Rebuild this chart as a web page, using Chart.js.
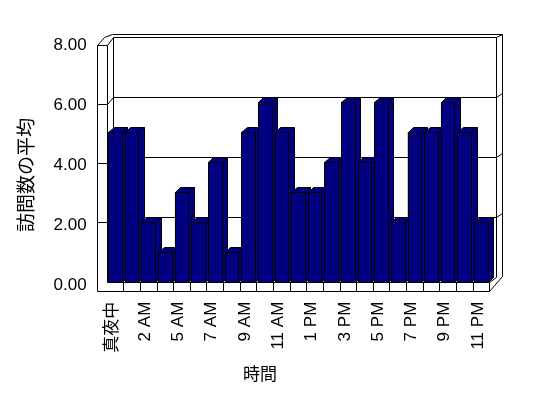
<!DOCTYPE html>
<html>
<head>
<meta charset="utf-8">
<script src="https://cdn.jsdelivr.net/npm/chart.js@4/dist/chart.umd.min.js"></script>
<style>
  body { margin: 0; background: #fff; }
  canvas { display: block; }
</style>
</head>
<body>
<canvas id="grafico" width="548" height="398"></canvas>
<script>
const horas = ['真夜中', '1 AM', '2 AM', '4 AM', '5 AM', '6 AM', '7 AM', '8 AM', '9 AM', '10 AM', '11 AM', '12 PM',
  '1 PM', '2 PM', '3 PM', '4 PM', '5 PM', '6 PM', '7 PM', '8 PM', '9 PM', '10 PM', '11 PM'];
const mediaVisitas = [5, 5, 2, 1, 3, 2, 4, 1, 5, 6, 5, 3, 3, 4, 6, 4, 6, 2, 5, 5, 6, 5, 2];
const ticksY = [0, 2, 4, 6, 8];
const tituloX = '時間';
const tituloY = '訪問数の平均';

const AZUL = '#000080';
const FONTE = "'Liberation Sans', 'Noto Sans CJK JP', sans-serif";
const PAREDE = { x: 6.5, y: -4.5 };   // profundidade da parede do fundo
const BARRA = { x: 5.5, y: -4.5 };    // profundidade de cada barra

const px = v => Math.round(v) + 0.5;

const linha = (ctx, pts) => {
  ctx.beginPath();
  ctx.moveTo(px(pts[0][0]), px(pts[0][1]));
  pts.slice(1).forEach(p => ctx.lineTo(px(p[0]), px(p[1])));
  ctx.stroke();
};

const poligono = (ctx, pts) => {
  ctx.beginPath();
  ctx.moveTo(px(pts[0][0]), px(pts[0][1]));
  pts.slice(1).forEach(p => ctx.lineTo(px(p[0]), px(p[1])));
  ctx.closePath();
  ctx.fill();
  ctx.stroke();
};

// moldura 3D (paredes, chão e linhas de grade)
const moldura = {
  id: 'moldura',
  beforeDatasetsDraw(chart) {
    const { ctx, chartArea: a, scales: { x, y } } = chart;
    const L = a.left, R = a.right, B = a.bottom, T = a.top;
    const esq = L - 9.4;
    const chao = B + 9.6;
    const topoEsq = T + 3;
    const bx = PAREDE.x, by = PAREDE.y;
    const maxY = ticksY[ticksY.length - 1];

    ctx.save();
    ctx.strokeStyle = '#000';
    ctx.lineWidth = 1;

    // parede do fundo
    linha(ctx, [[L + bx, B + by], [L + bx, T + by], [R + bx, T + by], [R + bx, B + by]]);

    // linhas de grade
    ticksY.forEach(v => {
      if (v === 0 || v === maxY) return;
      const yf = B - (B - topoEsq) * v / maxY;
      const yb = y.getPixelForValue(v) + by;
      linha(ctx, [[esq, yf], [L, yf], [L + bx, yb], [R + bx, yb], [R + bx + 6, yb - 4]]);
    });

    // parede esquerda
    linha(ctx, [[esq, chao], [esq, topoEsq], [L, topoEsq], [L, B]]);
    linha(ctx, [[L, topoEsq], [L + bx, T + by]]);
    // contorno externo de cima e da direita
    linha(ctx, [[esq, topoEsq], [esq + 7, T + by], [L + bx - 1.5, T + by - 3.5],
      [R + bx + 6.3, T + by - 3.5], [R + bx + 6.3, B + by - 1.5], [R, chao]]);
    linha(ctx, [[R + bx, T + by], [R + bx + 6.3, T + by - 3.5]]);

    // chão
    linha(ctx, [[L, B], [R, B], [R + bx, B + by]]);
    linha(ctx, [[esq, chao], [R, chao], [R, B]]);
    const passo = (R - L) / horas.length;
    for (let i = 1; i < horas.length; i++) {
      linha(ctx, [[L + i * passo, B], [L + i * passo, chao]]);
    }
    ctx.restore();
  },
  afterDatasetsDraw(chart) {
    const { ctx } = chart;
    const meta = chart.getDatasetMeta(0);
    ctx.save();
    ctx.strokeStyle = '#000';
    ctx.fillStyle = AZUL;
    ctx.lineWidth = 1;
    meta.data.forEach(bar => {
      const { x, y: topo, base, width } = bar.getProps(['x', 'y', 'base', 'width'], true);
      const e = x - width / 2, d = x + width / 2;
      const dx = BARRA.x, dy = BARRA.y;
      poligono(ctx, [[d, topo], [d + dx, topo + dy], [d + dx, base + dy], [d, base]]);
      poligono(ctx, [[e, topo], [e + dx, topo + dy], [d + dx, topo + dy], [d, topo]]);
      poligono(ctx, [[e, topo], [d, topo], [d, base], [e, base]]);
    });
    ctx.restore();
  },
  afterDraw(chart) {
    const { ctx } = chart;
    ctx.save();
    ctx.fillStyle = '#000';
    ctx.textAlign = 'center';
    ctx.textBaseline = 'middle';
    ctx.font = `17px ${FONTE}`;
    ctx.fillText(tituloX, 260, 375);
    ctx.translate(28, 175);
    ctx.rotate(-Math.PI / 2);
    ctx.font = `19px ${FONTE}`;
    ctx.fillText(tituloY, 0, 0);
    ctx.restore();
  }
};

Chart.defaults.color = '#000';
Chart.defaults.font.family = FONTE;
Chart.defaults.font.size = 17;

const ctx = document.getElementById('grafico').getContext('2d');
new Chart(ctx, {
  type: 'bar',
  data: {
    labels: horas,
    datasets: [{
      label: tituloY,
      data: mediaVisitas,
      backgroundColor: AZUL,
      borderColor: '#000',
      borderWidth: 1,
      categoryPercentage: 1,
      barPercentage: 0.82
    }]
  },
  options: {
    responsive: false,
    animation: false,
    layout: { padding: { left: 0, right: 58.8, top: 41.7, bottom: 0 } },
    plugins: { legend: { display: false }, tooltip: { enabled: false } },
    scales: {
      x: {
        grid: { display: false, drawTicks: false },
        border: { display: false },
        ticks: {
          autoSkip: false,
          maxRotation: 90,
          minRotation: 90,
          padding: 20,
          labelOffset: -3,
          callback: (v, i) => (i % 2 === 0 ? horas[i] : '')
        },
        afterFit: s => { s.height = 116.3; }
      },
      y: {
        min: 0,
        max: 8,
        grid: { display: false, drawTicks: false },
        border: { display: false },
        ticks: {
          stepSize: 2,
          padding: 20,
          labelOffset: 4,
          callback: v => v.toFixed(2)
        },
        afterFit: s => { s.width = 106.7; }
      }
    }
  },
  plugins: [moldura]
});
</script>
</body>
</html>
